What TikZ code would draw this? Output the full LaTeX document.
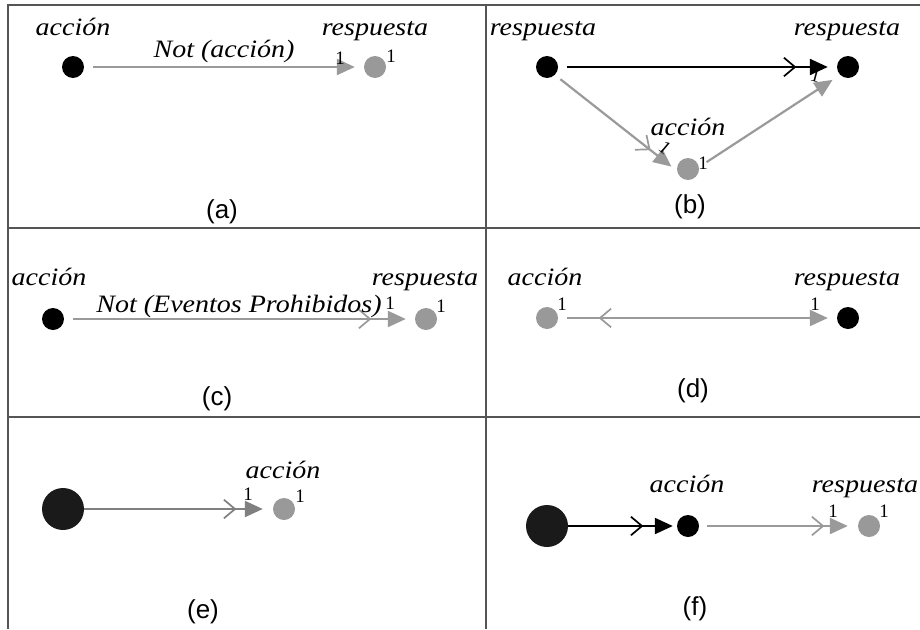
\documentclass[tikz,border=0pt]{standalone}
\usepackage{fontspec}
\setmainfont{Liberation Serif}
\setsansfont{Liberation Sans}
\newfontfamily\labfont[FakeStretch=1.12]{Liberation Serif}
\usetikzlibrary{arrows.meta,calc}
\definecolor{dotgray}{HTML}{999999}
\definecolor{linegray}{HTML}{9A9A9A}
\definecolor{darkline}{HTML}{808080}
\definecolor{framec}{HTML}{555555}
\definecolor{bigdot}{HTML}{1A1A1A}
\tikzset{
  frame/.style={draw=framec,line width=1.5pt},
  bdot/.style={circle,fill=black,minimum size=22pt,inner sep=0pt},
  gdot/.style={circle,fill=dotgray,minimum size=22pt,inner sep=0pt},
  bigd/.style={circle,fill=bigdot,minimum size=42pt,inner sep=0pt},
  lbl/.style={font=\labfont\itshape\fontsize{25}{25}\selectfont,inner sep=0pt,anchor=base},
  one/.style={font=\fontsize{19}{19}\selectfont,inner sep=0pt,anchor=base},
  capt/.style={font=\sffamily\fontsize{26}{26}\selectfont,inner sep=0pt,anchor=base},
  conn/.style={line width=2.2pt,-{Triangle[length=18pt,width=16pt]},shorten <=9pt,shorten >=9pt},
  chevline/.style={line width=1.7pt,line join=miter},
}
% chevron: #1 colour, #2 point it points to, #3 distance of its vertex from #2, #4 point it opens towards
\newcommand\chevat[4]{%
  \coordinate (chv) at ($(#2)!#3!(#4)$);
  \draw[chevline,#1] ($(chv)!14.5pt!40:(#4)$) -- (chv) -- ($(chv)!14.5pt!-40:(#4)$);}
\begin{document}
\begin{tikzpicture}[x=1pt,y=-1pt]
\useasboundingbox (0,0) rectangle (920,629);
\fill[white] (0,0) rectangle (920,629);
% frame
\draw[frame] (8,629) -- (8,5) -- (920,5);
\draw[frame] (486,5) -- (486,629);
\draw[frame] (8,228) -- (920,228);
\draw[frame] (8,417) -- (920,417);

% (a)
\node[bdot] (a1) at (73,67) {};
\node[gdot] (a2) at (375,67) {};
\draw[conn,draw=linegray] (a1) -- (a2);
\node[lbl] (a1l) at (73,35) {acción};
\node[lbl] (ael) at (224,57) {Not (acción)};
\node[lbl] (a2l) at (375,35) {respuesta};
\node[one] (a1n) at (340,64) {1};
\node[one] (a2n) at (391,62) {1};
\node[capt] (acap) at (222,218) {(a)};

% (b)
\node[bdot] (b1) at (547,67) {};
\node[bdot] (b2) at (848,67) {};
\node[gdot] (b3) at (688,169) {};
\node[one,rotate=-15] (b2n) at (814,82) {1};
\draw[conn,draw=black] (b1) -- (b2);
\chevat{black}{b2}{53pt}{b1}
\draw[conn,draw=linegray,shorten <=7pt,shorten >=7pt] (b1.-45) -- (b3.190);
\chevat{linegray}{b3.190}{35pt}{b1.-45}
\draw[conn,draw=linegray] (b3.10) -- (b2.225);
\node[lbl] (b1l) at (543,35) {respuesta};
\node[lbl] (b2l) at (847,35) {respuesta};
\node[lbl] (b3l) at (688,135) {acción};
\node[one] (b3n) at (703,169) {1};
\node[one,rotate=-40,anchor=center] (b3m) at (665,148) {1};
\node[capt] (bcap) at (690,213) {(b)};

% (c)
\node[bdot] (c1) at (53,319) {};
\node[gdot] (c2) at (426,319) {};
\draw[conn,draw=linegray] (c1) -- (c2);
\chevat{linegray}{c2}{56pt}{c1}
\node[lbl] (c1l) at (49,285) {acción};
\node[lbl] (cel) at (239,312) {Not (Eventos Prohibidos)};
\node[lbl] (c2l) at (425,285) {respuesta};
\node[one] (c1n) at (390,309) {1};
\node[one] (c2n) at (441,312) {1};
\node[capt] (ccap) at (217,405) {(c)};

% (d)
\node[gdot] (d1) at (547,318) {};
\node[bdot] (d2) at (848,318) {};
\draw[conn,draw=linegray] (d1) -- (d2);
\chevat{linegray}{d1}{53pt}{d2}
\node[lbl] (d1l) at (545,285) {acción};
\node[lbl] (d2l) at (847,285) {respuesta};
\node[one] (d1n) at (562,310) {1};
\node[one] (d2n) at (815,310) {1};
\node[capt] (dcap) at (693,397) {(d)};

% (e)
\node[bigd] (e1) at (63,509) {};
\node[gdot] (e2) at (284,509) {};
\draw[conn,draw=darkline,shorten <=0pt,shorten >=10pt] (e1) -- (e2);
\chevat{darkline}{e2}{49pt}{e1}
\node[lbl] (e2l) at (283,478) {acción};
\node[one] (e1n) at (248,500) {1};
\node[one] (e2n) at (300,502) {1};
\node[capt] (ecap) at (203,618) {(e)};

% (f)
\node[bigd] (f1) at (547,526) {};
\node[bdot] (f2) at (688,526) {};
\node[gdot] (f3) at (869,526) {};
\draw[conn,draw=black,shorten <=0pt,shorten >=4pt] (f1) -- (f2);
\chevat{black}{f2}{46pt}{f1}
\draw[conn,draw=linegray,shorten <=8pt,shorten >=10pt] (f2) -- (f3);
\chevat{linegray}{f3}{46pt}{f2}
\node[lbl] (f2l) at (687,492) {acción};
\node[lbl] (f3l) at (865,492) {respuesta};
\node[one] (f2n) at (833,517) {1};
\node[one] (f3n) at (884,517) {1};
\node[capt] (fcap) at (695,615) {(f)};
\end{tikzpicture}
\end{document}
